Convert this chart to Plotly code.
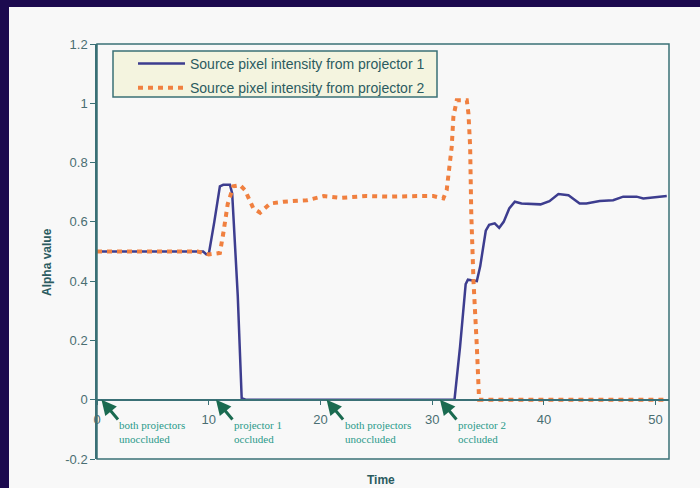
import plotly.graph_objects as go

# ---- data ----
series_names = ["Source pixel intensity from projector 1",
                "Source pixel intensity from projector 2"]

t1 = [0, 9.5, 9.8, 10.0, 10.5, 11.0, 11.3, 11.9, 12.1, 12.6, 12.95, 13.3,
      20, 30, 32.0, 32.5, 33.0, 33.2, 34.0, 34.3, 34.8, 35.1, 35.6, 36.0,
      36.4, 36.9, 37.4, 38.0, 39.7, 40.5, 41.3, 42.2, 43.2, 43.8, 45.0,
      46.2, 47.1, 48.3, 48.9, 51.0]
y1 = [0.5, 0.5, 0.49, 0.49, 0.6, 0.72, 0.725, 0.725, 0.696, 0.35, 0.005, 0.0,
      0.0, 0.0, 0.0, 0.18, 0.39, 0.405, 0.40, 0.45, 0.57, 0.59, 0.595, 0.58,
      0.6, 0.645, 0.668, 0.662, 0.659, 0.67, 0.694, 0.69, 0.662, 0.662, 0.67,
      0.673, 0.685, 0.685, 0.679, 0.687]

t2 = [0, 9.0, 10.0, 11.0, 11.3, 11.7, 12.2, 12.8, 13.25, 14.0, 14.6, 15.5,
      16.7, 18.8, 20.3, 21.8, 24.1, 26.2, 28.9, 30.1, 31.0, 31.3, 31.75, 31.9,
      32.2, 33.1, 33.25, 33.4, 33.5, 33.7, 34.0, 34.2, 35.0, 51.0]
y2 = [0.5, 0.5, 0.49, 0.495, 0.56, 0.66, 0.72, 0.724, 0.707, 0.645, 0.631, 0.662,
      0.668, 0.673, 0.687, 0.681, 0.687, 0.685, 0.687, 0.687, 0.679, 0.707, 0.853, 0.954,
      1.01, 1.01, 0.965, 0.853, 0.63, 0.40, 0.18, 0.0, 0.0, 0.0]

x_ticks = [0, 10, 20, 30, 40, 50]
y_ticks = [1.2, 1.0, 0.8, 0.6, 0.4, 0.2, 0.0, -0.2]
y_tick_labels = ["1.2", "1", "0.8", "0.6", "0.4", "0.2", "0", "-0.2"]

note_x = [0.4, 10.65, 20.55, 30.7]
note_text = ["both projectors<br>unoccluded", "projector 1<br>occluded",
             "both projectors<br>unoccluded", "projector 2<br>occluded"]

# ---- styling ----
NAVY = "#1c0a4f"
PANEL = "#f8f8f8"
FRAME = "#3a7076"
TICKC = "#4a6e72"
BLUE = "#3d3d8f"
ORANGE = "#f08040"
GREEN = "#1a6a50"
NOTE = "#2a9a8a"
TITLEC = "#2b5b5f"

fig = go.Figure()
fig.add_trace(go.Scatter(x=t1, y=y1, mode="lines", name=series_names[0],
                         legendgroup="a",
                         line=dict(color=BLUE, width=2.5)))
fig.add_trace(go.Scatter(x=t2, y=y2, mode="lines", name=series_names[1],
                         legendgroup="b",
                         line=dict(color=ORANGE, width=4, dash="5px,5px")))

W, H = 700, 488
L, R, T, B = 97, 31, 44, 29
pw, ph = W - L - R, H - T - B

def px_x(p):
    return (p - L) / pw

def px_y(p):
    return (H - B - p) / ph

shapes = [
    # light panel inside the navy frame
    dict(type="rect", xref="paper", yref="paper", layer="below",
         x0=px_x(9), x1=px_x(W + 20), y0=px_y(H + 20), y1=px_y(7),
         fillcolor=PANEL, line=dict(width=0)),
    # legend box
    dict(type="rect", xref="paper", yref="paper", layer="below",
         x0=px_x(113), x1=px_x(437), y0=px_y(97), y1=px_y(51),
         fillcolor="#f4f4df", line=dict(color=FRAME, width=1.5)),
    # plot frame
    dict(type="rect", xref="paper", yref="paper", layer="above",
         x0=0, x1=1, y0=0, y1=1, line=dict(color=FRAME, width=1.5)),
]

annotations = [
    dict(text="<b>Alpha value</b>", xref="paper", yref="paper",
         x=px_x(47), y=px_y(262), textangle=-90, showarrow=False,
         xanchor="center", yanchor="middle",
         font=dict(family="Liberation Sans, Arial", size=12, color=TITLEC)),
    dict(text="<b>Time</b>", xref="paper", yref="paper",
         x=px_x(381), y=px_y(480), showarrow=False,
         xanchor="center", yanchor="middle",
         font=dict(family="Liberation Sans, Arial", size=12, color=TITLEC)),
]
for xv, txt in zip(note_x, note_text):
    annotations.append(dict(x=xv, y=0, xref="x", yref="y", text=" ",
                            showarrow=True, ax=20, ay=24,
                            arrowhead=2, arrowsize=1.0, arrowwidth=3,
                            arrowcolor=GREEN, standoff=0, startstandoff=0))
    annotations.append(dict(x=xv, y=0, xref="x", yref="y", text=txt,
                            showarrow=False, xanchor="left", yanchor="top",
                            xshift=16, yshift=-17, align="left",
                            font=dict(family="Liberation Serif, Times New Roman",
                                      size=11, color=NOTE)))

fig.update_layout(
    template="none",
    width=W, height=H,
    margin=dict(l=L, r=R, t=T, b=B, autoexpand=False),
    paper_bgcolor=NAVY, plot_bgcolor="rgba(0,0,0,0)",
    font=dict(family="Liberation Sans, Arial", size=13, color=TICKC),
    shapes=shapes, annotations=annotations,
    showlegend=True,
    legend=dict(x=px_x(133), y=px_y(48), xanchor="left", yanchor="top",
                bgcolor="rgba(0,0,0,0)", borderwidth=0,
                font=dict(family="Liberation Sans, Arial", size=14, color=TITLEC),
                itemwidth=47, tracegroupgap=3),
    xaxis=dict(range=[0, 51.2], tickvals=x_ticks, showgrid=False, zeroline=False,
               anchor="free", position=0.2 / 1.4, showline=True,
               linecolor=FRAME, linewidth=1.5, ticks="outside", ticklen=5,
               tickcolor=FRAME, ticklabelstandoff=3, automargin=False,
               tickfont=dict(size=13, color=TICKC)),
    yaxis=dict(range=[-0.2, 1.2], tickvals=y_ticks, ticktext=y_tick_labels,
               showgrid=False, zeroline=False, showline=True, automargin=False,
               linecolor=FRAME, linewidth=1.5, ticks="outside", ticklen=5,
               tickcolor=FRAME, tickfont=dict(size=13, color=TICKC)),
)

fig.write_html("out.html",
               config={"displayModeBar": False},
               post_script="document.body.style.margin='0';"
                           "document.body.style.overflow='hidden';")
